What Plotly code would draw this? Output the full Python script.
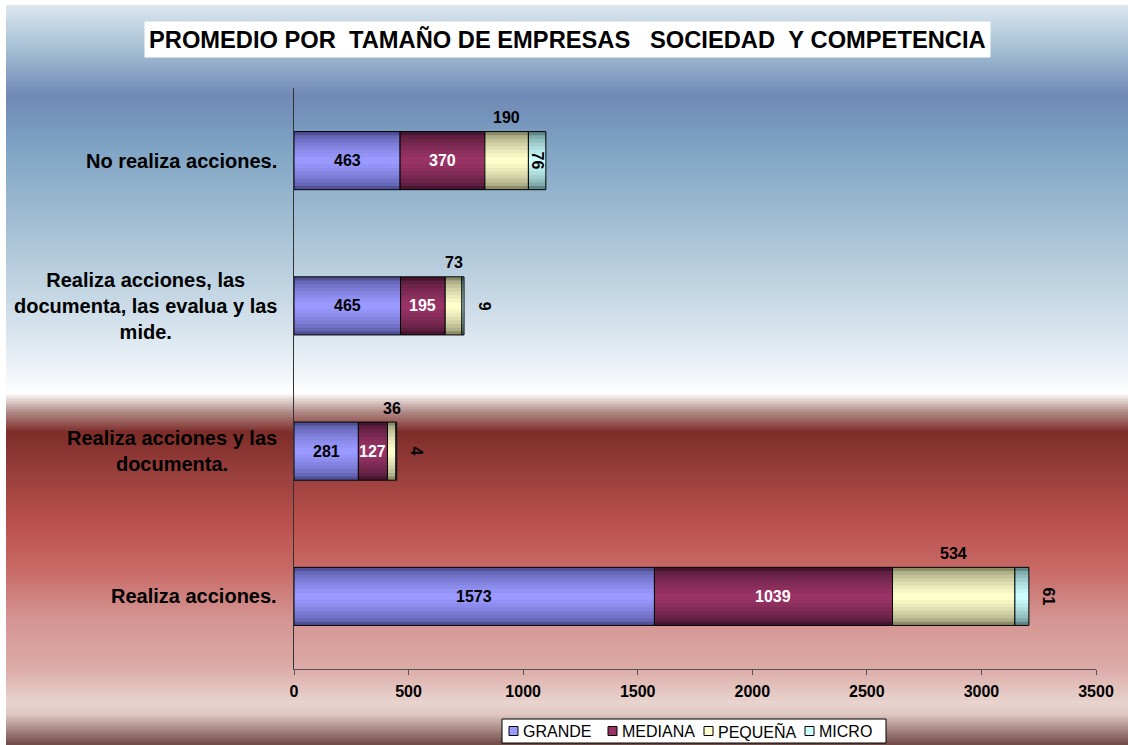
import plotly.graph_objects as go

# ---------------- data ----------------
categories = [
    "No realiza acciones.",
    "Realiza acciones, las documenta, las evalua y las mide.",
    "Realiza acciones y las documenta.",
    "Realiza acciones.",
]
category_labels = [
    "No realiza acciones.",
    "Realiza acciones, las<br>documenta, las evalua y las<br>mide.",
    "Realiza acciones y las<br>documenta.",
    "Realiza acciones.",
]
grande = [463, 465, 281, 1573]
mediana = [370, 195, 127, 1039]
pequena = [190, 73, 36, 534]
micro = [76, 9, 4, 61]
series_names = ["GRANDE", "MEDIANA", "PEQUEÑA", "MICRO"]
x_ticks = [0, 500, 1000, 1500, 2000, 2500, 3000, 3500]
title_text = "PROMEDIO POR  TAMAÑO DE EMPRESAS   SOCIEDAD  Y COMPETENCIA"

# ---------------- styling ----------------
W, H = 1128, 745
ML, MR, MT, MB = 294, 32, 88, 76
PW, PH = W - ML - MR, H - MT - MB
XMAX = 3500
BW = 0.4
FONT = "Liberation Sans, Arial, sans-serif"

edge_cols = [(80, 80, 150), (70, 22, 48), (140, 140, 105), (95, 135, 135)]
center_cols = [(153, 153, 255), (153, 51, 102), (255, 255, 204), (204, 255, 255)]

# custom legend layout (pixel positions of each entry's square)
legend_box = (502, 719, 886, 743)
legend_item_px = [509, 608, 704, 805]


def px_to_paper_x(px):
    return (px - ML) / PW


def px_to_paper_y(py):
    return (H - MB - py) / PH


def hex2rgb(h):
    h = h.lstrip("#")
    return tuple(int(h[i:i + 2], 16) for i in (0, 2, 4))


def mix(a, b, t):
    return tuple(round(a[i] + (b[i] - a[i]) * t) for i in range(3))


def rgb(c):
    return "rgb(%d,%d,%d)" % c


# background gradient stops (pixel y, colour)
bg_stops = [
    (5, "#dce8f0"), (48, "#a6c0d4"), (95, "#7189b6"), (115, "#7592bb"),
    (145, "#7ea3c3"), (238, "#a9c3d6"), (333, "#d9e5ee"), (381, "#f5f8fb"),
    (393, "#ffffff"), (412, "#b08a86"), (432, "#7e2d29"), (476, "#9a403d"),
    (524, "#bb514e"), (571, "#c86b68"), (619, "#d49592"), (667, "#dcaaa6"),
    (703, "#e8d4cf"), (714, "#e0c8c3"), (745, "#6e4843"),
]


def bg_color(py):
    for (y0, c0), (y1, c1) in zip(bg_stops[:-1], bg_stops[1:]):
        if y0 <= py <= y1:
            t = (py - y0) / (y1 - y0)
            return mix(hex2rgb(c0), hex2rgb(c1), t)
    return hex2rgb(bg_stops[-1][1])


shapes = []
step = 2
for py in range(5, H, step):
    shapes.append(dict(
        type="rect", xref="paper", yref="paper",
        x0=px_to_paper_x(6), x1=px_to_paper_x(W + 2),
        y0=px_to_paper_y(py + step + 0.5), y1=px_to_paper_y(py),
        fillcolor=rgb(bg_color(py + step / 2)), line=dict(width=0), layer="below",
    ))

# ---------------- traces ----------------
fig = go.Figure()
series = [grande, mediana, pequena, micro]
bases = []
running = [0] * len(categories)
for s in series:
    bases.append(list(running))
    running = [r + v for r, v in zip(running, s)]
totals = running

NL = 8
for si, (name, vals) in enumerate(zip(series_names, series)):
    for k in range(NL):
        t = (k / (NL - 1)) ** 0.6
        col = rgb(mix(edge_cols[si], center_cols[si], t))
        w = BW * (1 - k / NL)
        fig.add_trace(go.Bar(
            y=categories, x=vals, base=bases[si], orientation="h",
            width=w, name=name, legendgroup=name, showlegend=False,
            marker=dict(color=col, line=dict(width=0)),
            hoverinfo="skip",
        ))
    fig.add_trace(go.Bar(
        y=categories, x=vals, base=bases[si], orientation="h",
        width=BW, name=name, showlegend=False, legendgroup=name,
        marker=dict(color="rgba(0,0,0,0)", line=dict(color="black", width=1)),
        hovertemplate=name + ": %{x}<extra></extra>",
    ))

# ---------------- annotations ----------------
ann = []
lab_font = dict(family=FONT, size=16, color="black", weight="bold")
for i, c in enumerate(categories):
    ann.append(dict(x=bases[0][i] + grande[i] / 2, y=c, xref="x", yref="y",
                    text=str(grande[i]), showarrow=False, font=lab_font))
    ann.append(dict(x=bases[1][i] + mediana[i] / 2, y=c, xref="x", yref="y",
                    text=str(mediana[i]), showarrow=False,
                    font=dict(family=FONT, size=16, color="white", weight="bold")))
    ann.append(dict(x=bases[2][i] + pequena[i] / 2, y=c, xref="x", yref="y",
                    text=str(pequena[i]), showarrow=False, yshift=43,
                    font=lab_font))
    seg_px = micro[i] * PW / XMAX
    if seg_px > 15:
        ann.append(dict(x=bases[3][i] + micro[i] / 2, y=c, xref="x", yref="y",
                        text=str(micro[i]), showarrow=False, textangle=90,
                        font=lab_font))
    else:
        ann.append(dict(x=totals[i], y=c, xref="x", yref="y",
                        text=str(micro[i]), showarrow=False, textangle=90,
                        xshift=20, font=lab_font))
    ann.append(dict(x=px_to_paper_x(279), y=c, xref="paper", yref="y",
                    text=category_labels[i], showarrow=False, xanchor="right",
                    align="center",
                    font=dict(family=FONT, size=20, color="black", weight="bold")))

# title
ann.append(dict(x=px_to_paper_x(567), y=px_to_paper_y(40), xref="paper", yref="paper",
                xanchor="center", yanchor="middle",
                text=title_text.replace(" ", "\u00a0"), showarrow=False,
                bgcolor="white", borderpad=4,
                font=dict(family=FONT, size=23.7, color="black", weight="bold")))

# custom legend
lx0, ly0, lx1, ly1 = legend_box
shapes.append(dict(type="rect", xref="paper", yref="paper",
                   x0=px_to_paper_x(lx0), x1=px_to_paper_x(lx1),
                   y0=px_to_paper_y(ly1), y1=px_to_paper_y(ly0),
                   fillcolor="white", line=dict(color="black", width=1), layer="above"))
ly_mid = (ly0 + ly1) / 2
for si, name in enumerate(series_names):
    sx = legend_item_px[si]
    shapes.append(dict(type="rect", xref="paper", yref="paper",
                       x0=px_to_paper_x(sx), x1=px_to_paper_x(sx + 9),
                       y0=px_to_paper_y(ly_mid + 4.5), y1=px_to_paper_y(ly_mid - 4.5),
                       fillcolor=rgb(center_cols[si]),
                       line=dict(color="black", width=1), layer="above"))
    ann.append(dict(x=px_to_paper_x(sx + 12), y=px_to_paper_y(ly_mid),
                    xref="paper", yref="paper", text=name, showarrow=False,
                    xanchor="left", yanchor="middle",
                    font=dict(family=FONT, size=16, color="black")))

fig.update_layout(
    width=W, height=H,
    margin=dict(l=ML, r=MR, t=MT, b=MB, pad=0),
    paper_bgcolor="white", plot_bgcolor="rgba(0,0,0,0)",
    barmode="overlay",
    shapes=shapes, annotations=ann,
    showlegend=False,
    font=dict(family=FONT),
)
fig.update_xaxes(range=[0, XMAX], tickvals=x_ticks, ticktext=[str(v) for v in x_ticks],
                 showgrid=False, zeroline=False, showline=True, linecolor="#555555",
                 ticks="outside", ticklen=5, tickcolor="#555555", ticklabelstandoff=3,
                 tickfont=dict(family=FONT, size=16, color="black", weight="bold"))
fig.update_yaxes(categoryorder="array", categoryarray=categories, autorange="reversed",
                 showgrid=False, zeroline=False, showline=True, linecolor="#333333",
                 showticklabels=False, ticks="")

fig.write_html(
    "out.html",
    config={"displayModeBar": False},
    post_script="document.body.style.margin='0';document.body.style.overflow='hidden';",
)
